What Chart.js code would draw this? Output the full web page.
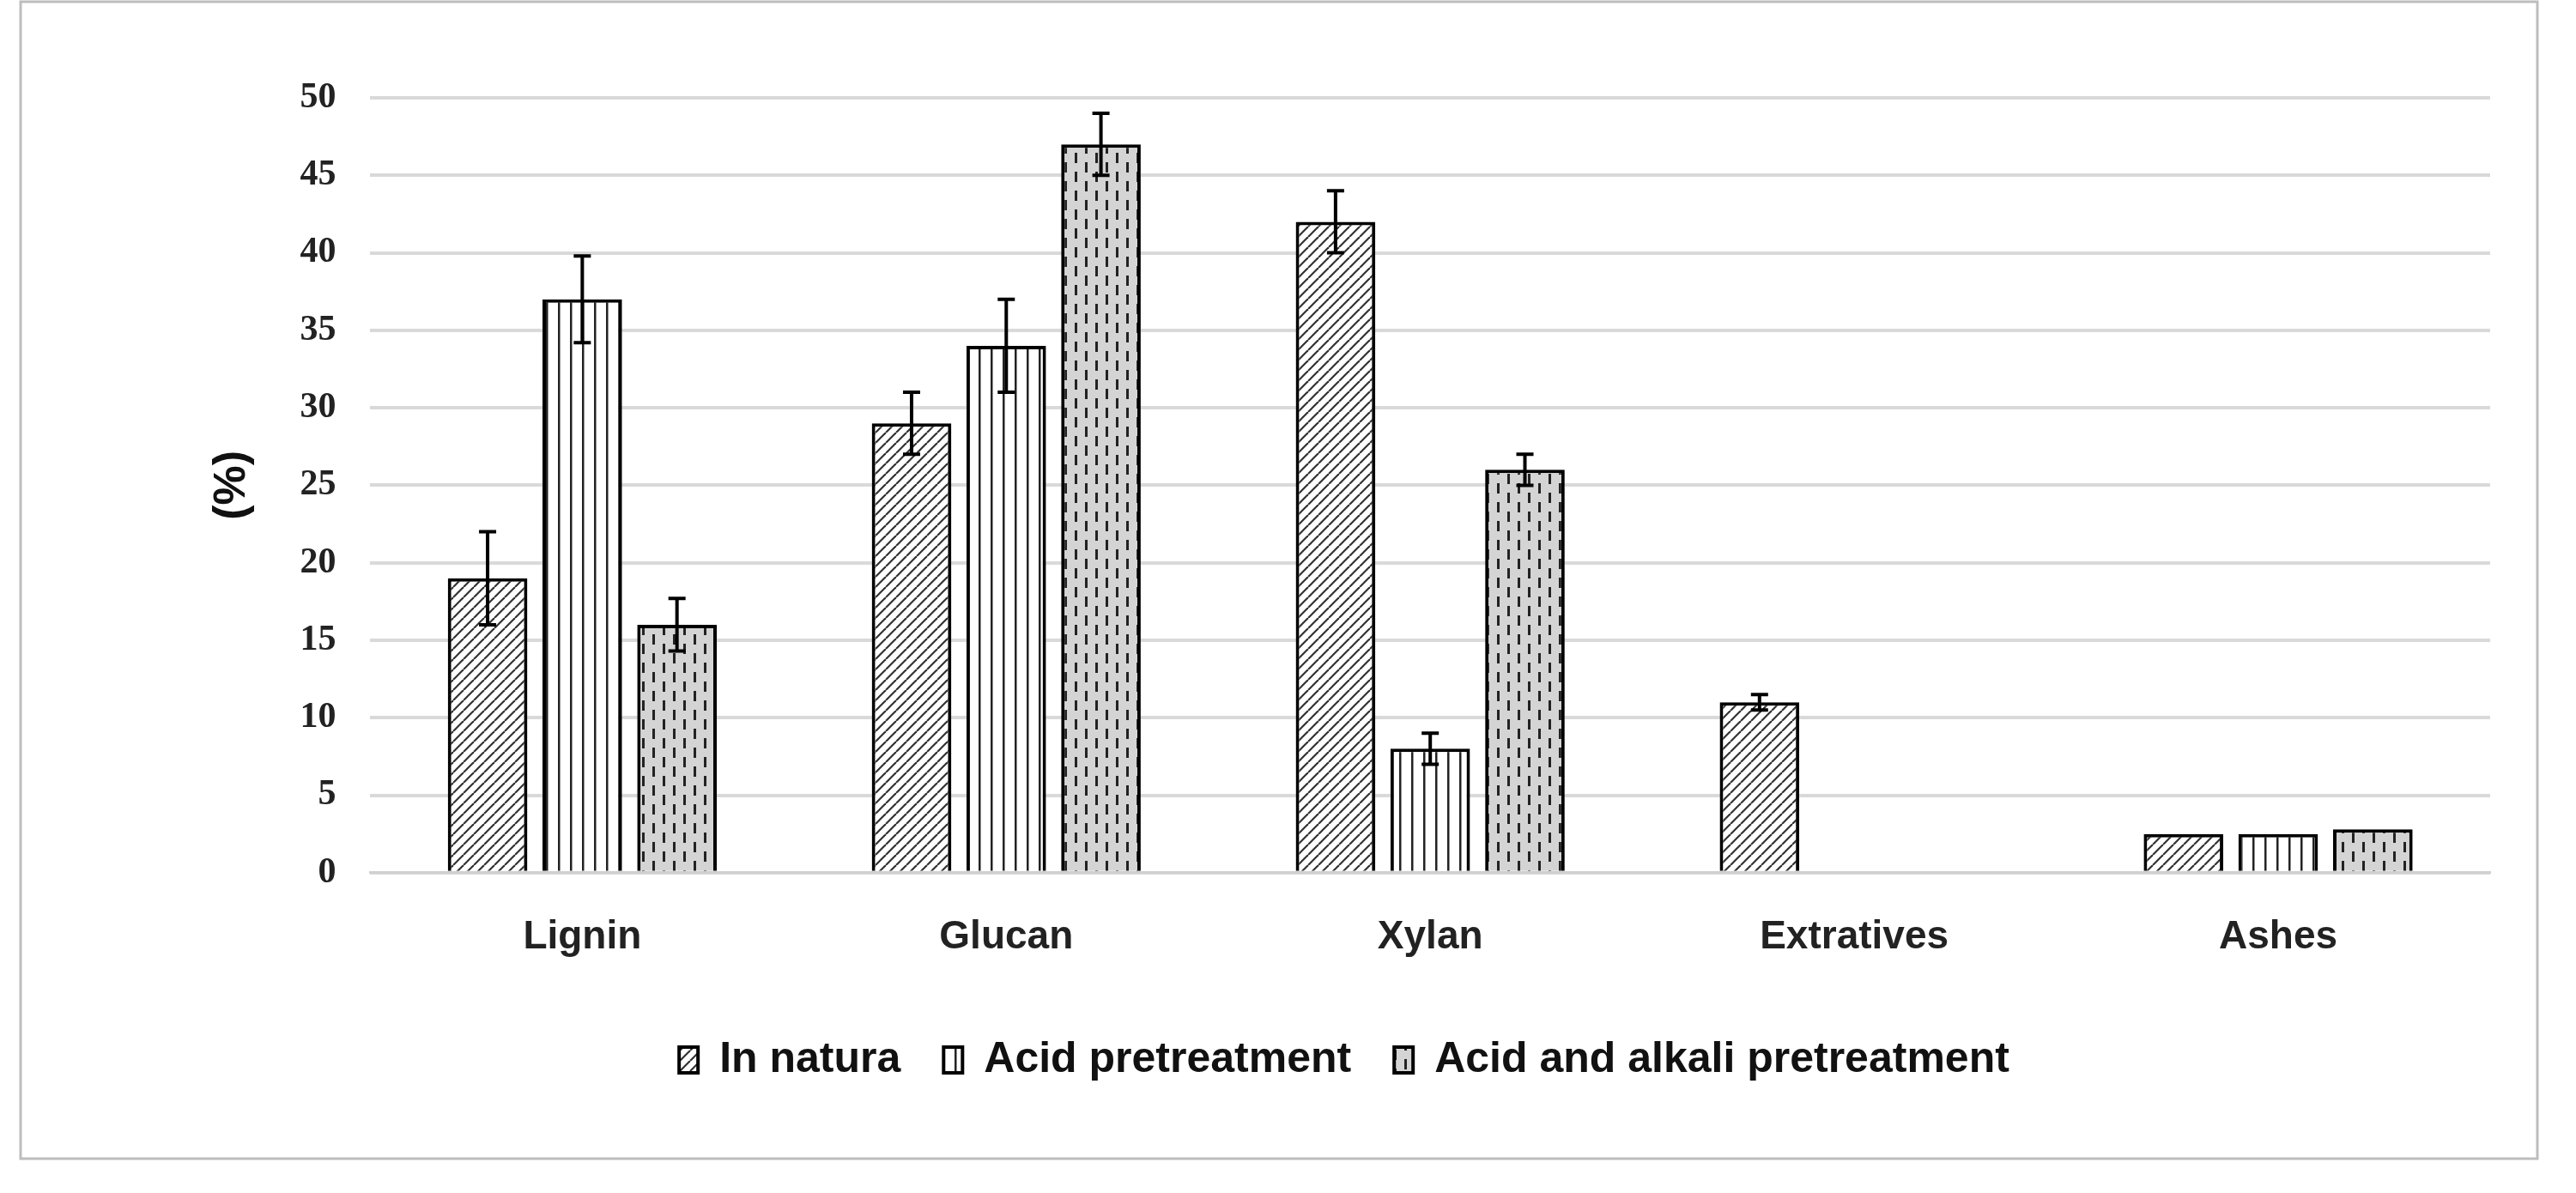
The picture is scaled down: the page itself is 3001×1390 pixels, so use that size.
<!DOCTYPE html>
<html>
<head>
<meta charset="utf-8">
<script src="https://cdn.jsdelivr.net/npm/chart.js@4.4.1/dist/chart.umd.min.js"></script>
<style>
  html, body { margin: 0; padding: 0; background: #fff; }
  #wrap { width: 3001px; height: 1390px; }
</style>
</head>
<body>
<div id="wrap"><canvas id="chart" width="3001" height="1390"></canvas></div>
<script>
const categories = ['Lignin', 'Glucan', 'Xylan', 'Extratives', 'Ashes'];
const seriesNames = ['In natura', 'Acid pretreatment', 'Acid and alkali pretreatment'];
const inNatura = [19, 29, 42, 11, 2.5];
const acidPre = [37, 34, 8, 0, 2.5];
const acidAlkali = [16, 47, 26, 0, 2.8];
const errNatura = [3, 2, 2, 0.5, 0];
const errAcid = [2.8, 3, 1, 0, 0];
const errAlkali = [1.7, 2, 1, 0, 0];
const yTicks = [0, 5, 10, 15, 20, 25, 30, 35, 40, 45, 50];

function makePattern(kind) {
    const c = document.createElement('canvas');
    const g = c.getContext('2d');
    if (kind === 'diag') {
        c.width = 12; c.height = 12;
        g.fillStyle = '#fff'; g.fillRect(0, 0, 12, 12);
        g.strokeStyle = '#333'; g.lineWidth = 2.2;
        for (let o = -12; o <= 24; o += 12) {
            g.beginPath(); g.moveTo(o, 12); g.lineTo(o + 12, 0); g.stroke();
        }
    } else if (kind === 'vert') {
        c.width = 14; c.height = 10;
        g.fillStyle = '#fff'; g.fillRect(0, 0, 14, 10);
        g.fillStyle = '#222'; g.fillRect(6, 0, 2.5, 10);
    } else {
        c.width = 24; c.height = 22;
        g.fillStyle = '#d4d4d4'; g.fillRect(0, 0, 24, 22);
        g.fillStyle = '#222';
        g.fillRect(4, 2, 3, 12);
        g.fillRect(16, 13, 3, 12);
        g.fillRect(16, -9, 3, 12);
    }
    return g.createPattern(c, 'repeat');
}

const ctx = document.getElementById('chart').getContext('2d');
const fills = [makePattern('diag'), makePattern('vert'), makePattern('dots')];
const values = [inNatura, acidPre, acidAlkali];
const errors = [errNatura, errAcid, errAlkali];

const errorBars = {
    id: 'errorBars',
    afterDatasetsDraw(chart) {
        const c = chart.ctx, y = chart.scales.y;
        c.save();
        c.strokeStyle = '#000'; c.lineWidth = 4;
        chart.data.datasets.forEach((ds, di) => {
            chart.getDatasetMeta(di).data.forEach((bar, i) => {
                const e = errors[di][i];
                if (!e || !ds.data[i]) return;
                const top = y.getPixelForValue(ds.data[i] + e);
                const bot = y.getPixelForValue(ds.data[i] - e);
                c.beginPath();
                c.moveTo(bar.x, top); c.lineTo(bar.x, bot);
                c.moveTo(bar.x - 10, top); c.lineTo(bar.x + 10, top);
                c.moveTo(bar.x - 10, bot); c.lineTo(bar.x + 10, bot);
                c.stroke();
            });
        });
        c.restore();
    }
};

const frame = {
    id: 'frame',
    beforeDraw(chart) {
        const c = chart.ctx;
        c.save();
        c.fillStyle = '#fff'; c.fillRect(0, 0, chart.width, chart.height);
        c.strokeStyle = '#bdbdbd'; c.lineWidth = 3;
        c.strokeRect(24, 2, 2932, 1348);
        c.restore();
    }
};

new Chart(ctx, {
    type: 'bar',
    data: {
        labels: categories,
        datasets: seriesNames.map((name, k) => ({
            label: name,
            data: values[k],
            backgroundColor: fills[k],
            borderColor: '#000',
            borderWidth: 4,
            categoryPercentage: 0.67,
            barPercentage: 0.84
        }))
    },
    options: {
        responsive: false,
        animation: false,
        devicePixelRatio: 1,
        layout: { padding: { left: 231, right: 100, top: 114, bottom: 120 } },
        scales: {
            x: {
                grid: { display: false },
                border: { color: '#d0d0d0', width: 3 },
                ticks: { color: '#222', padding: 40, font: { family: 'Liberation Sans', weight: 'bold', size: 46 } }
            },
            y: {
                min: 0, max: 50,
                afterBuildTicks(ax) { ax.ticks = yTicks.map(v => ({ value: v })); },
                grid: { color: '#d9d9d9', lineWidth: 4, drawTicks: false },
                border: { display: false },
                ticks: { color: '#222', padding: 40, font: { family: 'Liberation Serif', weight: 'bold', size: 42 } },
                title: { display: true, text: '(%)', color: '#111', padding: 8, font: { family: 'Liberation Sans', weight: 'bold', size: 52 } }
            }
        },
        plugins: {
            legend: {
                position: 'bottom',
                labels: {
                    color: '#111',
                    boxWidth: 22, boxHeight: 30, padding: 50,
                    font: { family: 'Liberation Sans', weight: 'bold', size: 50 }
                }
            },
            tooltip: { enabled: false }
        }
    },
    plugins: [frame, errorBars]
});
</script>
</body>
</html>
